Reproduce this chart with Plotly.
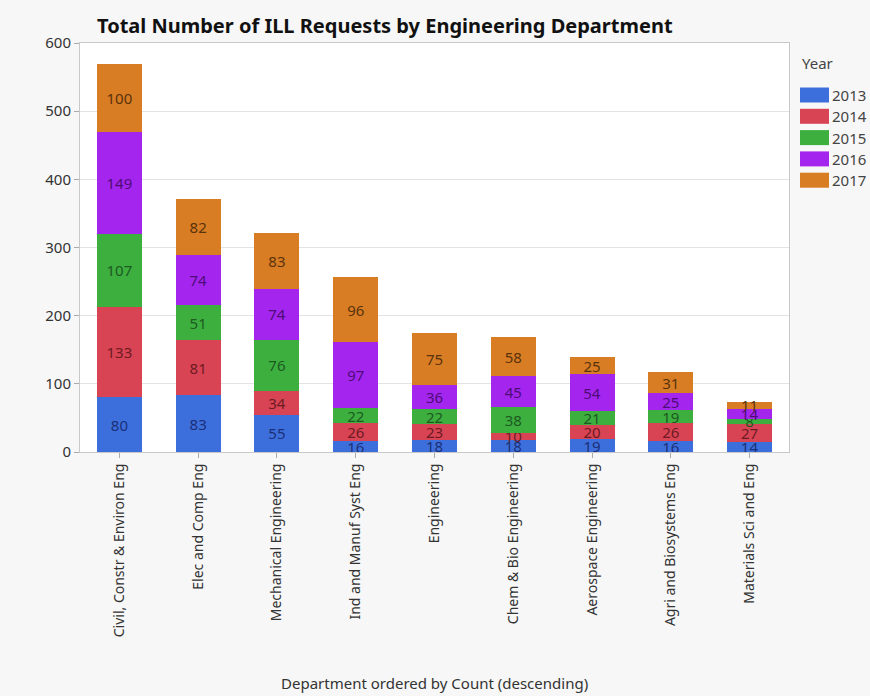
import plotly.graph_objects as go

departments = [
    "Civil, Constr & Environ Eng",
    "Elec and Comp Eng",
    "Mechanical Engineering",
    "Ind and Manuf Syst Eng",
    "Engineering",
    "Chem & Bio Engineering",
    "Aerospace Engineering",
    "Agri and Biosystems Eng",
    "Materials Sci and Eng",
]
years = ["2013", "2014", "2015", "2016", "2017"]
v2013 = [80, 83, 55, 16, 18, 18, 19, 16, 14]
v2014 = [133, 81, 34, 26, 23, 10, 20, 26, 27]
v2015 = [107, 51, 76, 22, 22, 38, 21, 19, 8]
v2016 = [149, 74, 74, 97, 36, 45, 54, 25, 14]
v2017 = [100, 82, 83, 96, 75, 58, 25, 31, 11]
series = [v2013, v2014, v2015, v2016, v2017]

colors = ["#3d6fdc", "#d94455", "#3caf3f", "#a426ee", "#d97d25"]
text_colors = ["#1b2f78", "#6e1a22", "#1d5a1f", "#4e0c78", "#5a330c"]

W, H = 870, 696
L, R, T, B = 80, 789, 43, 452

fig = go.Figure()
for yr, vals, c, tc in zip(years, series, colors, text_colors):
    fig.add_trace(go.Bar(
        x=departments, y=vals, name=yr,
        marker=dict(color=c, line=dict(width=0)),
        text=[str(v) for v in vals],
        textposition="inside", insidetextanchor="middle", textangle=0,
        textfont=dict(color=tc, size=15, family="Noto Sans"),
        showlegend=False,
    ))

def px_x(p):
    return (p - L) / (R - L)

def px_y(p):
    return (B - p) / (B - T)

shapes = []
annotations = []
annotations.append(dict(text="Year", x=px_x(800), y=px_y(63), xref="paper", yref="paper",
                        xanchor="left", yanchor="middle", showarrow=False,
                        font=dict(size=15, color="#444", family="Noto Sans")))
for i, (yr, c) in enumerate(zip(years, colors)):
    cy = 95 + i * 21.3
    shapes.append(dict(type="rect", xref="paper", yref="paper",
                       x0=px_x(800), x1=px_x(829), y0=px_y(cy - 7.5), y1=px_y(cy + 7.5),
                       fillcolor=c, line=dict(width=0)))
    annotations.append(dict(text=yr, x=px_x(830), y=px_y(cy), xref="paper", yref="paper",
                            xanchor="left", yanchor="middle", showarrow=False,
                            font=dict(size=15, color="#444", family="Noto Sans")))
annotations.append(dict(text="Department ordered by Count (descending)",
                        x=0.5, y=px_y(683), xref="paper", yref="paper",
                        xanchor="center", yanchor="middle", showarrow=False,
                        font=dict(size=15, color="#333", family="Noto Sans")))

fig.update_layout(
    width=W, height=H,
    margin=dict(l=L, r=W - R, t=T, b=H - B, autoexpand=False),
    barmode="stack", bargap=0.43,
    paper_bgcolor="#f7f7f7", plot_bgcolor="white",
    font=dict(family="Noto Sans", size=14, color="#333"),
    title=dict(text="<b>Total Number of ILL Requests by Engineering Department</b>",
               x=97 / W, xanchor="left", xref="container",
               y=1 - 26 / H, yanchor="middle", yref="container",
               font=dict(size=20, color="#111", family="Noto Sans")),
    uniformtext=dict(minsize=15, mode="show"),
    shapes=shapes, annotations=annotations,
    xaxis=dict(tickangle=-90, showline=True, linecolor="#c8c8c8", mirror=True,
               ticks="outside", ticklen=5, tickcolor="#aaa", automargin=False,
               tickfont=dict(size=14, color="#333")),
    yaxis=dict(range=[0, 600], dtick=100, showgrid=True, gridcolor="#e3e3e3",
               showline=True, linecolor="#c8c8c8", mirror=True, automargin=False,
               ticks="outside", ticklen=5, tickcolor="#aaa",
               tickfont=dict(size=15, color="#333"), zeroline=False),
)

fig.write_html("out.html")
